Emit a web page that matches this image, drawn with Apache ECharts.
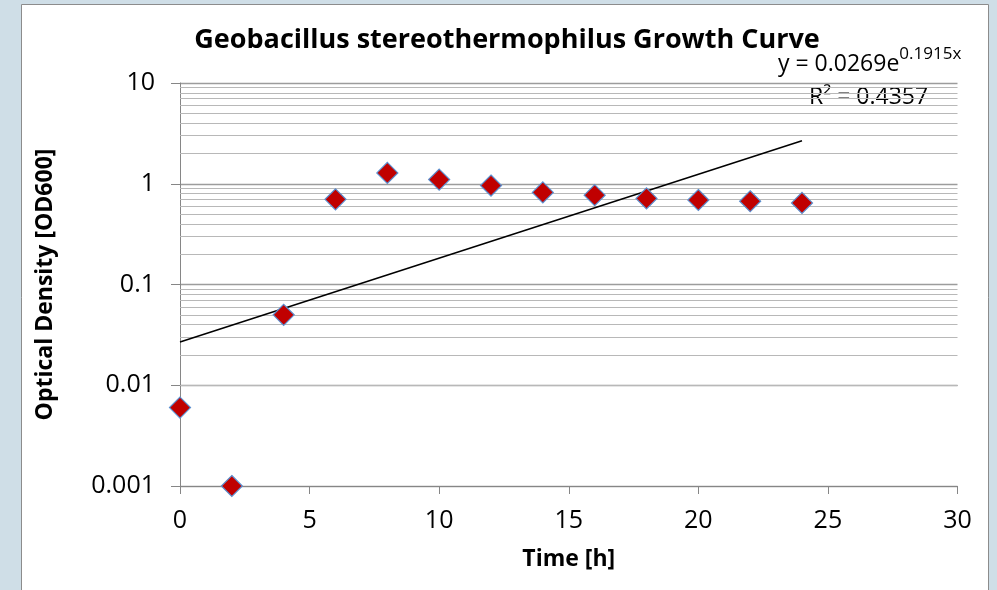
<!DOCTYPE html>
<html>
<head>
<meta charset="utf-8">
<script src="https://cdn.jsdelivr.net/npm/echarts@6/dist/echarts.min.js"></script>
<style>
html,body{margin:0;padding:0;background:#cfdee7;}
#c{width:997px;height:590px;}
</style>
</head>
<body>
<div id="c"></div>
<script>
// ---- data ----
var timeHours = [0, 2, 4, 6, 8, 10, 12, 14, 16, 18, 20, 22, 24];
var odValues = [0.006, 0.001, 0.05, 0.70, 1.28, 1.10, 0.96, 0.82, 0.77, 0.715, 0.69, 0.67, 0.645];
var trendX = [0, 24];
var trendY = [0.0269, 2.67];
var yTickLabels = ['0.001', '0.01', '0.1', '1', '10'];
var yTickValues = [0.001, 0.01, 0.1, 1, 10];
var minorGridValues = [];
var minorMultipliers = [2, 3, 4, 5, 6, 7, 8, 9];
var decades = [0.001, 0.01, 0.1, 1];
decades.forEach(function (d) {
  minorMultipliers.forEach(function (m) { minorGridValues.push(+(d * m).toPrecision(3)); });
});
var titleText = 'Geobacillus stereothermophilus Growth Curve';
var xName = 'Time [h]';
var yName = 'Optical Density [OD600]';

var FONT = '"Open Sans", Lato, sans-serif';
var chart = echarts.init(document.getElementById('c'), null, {renderer: 'canvas'});

var scatterData = timeHours.map(function (t, i) { return [t, odValues[i]]; });
var trendData = trendX.map(function (t, i) { return [t, trendY[i]]; });

chart.setOption({
  animation: false,
  backgroundColor: '#cfdee7',
  graphic: [
    {type: 'rect', z: -10, silent: true,
     shape: {x: 21.5, y: 4.5, width: 967, height: 600},
     style: {fill: '#ffffff', stroke: '#8c8c8c', lineWidth: 1}},
    {type: 'text', left: 778, top: 46, silent: true,
     style: {
       text: '{a|y = 0.0269e}{b|0.1915x}',
       rich: {
         a: {fontFamily: FONT, fontSize: 23, fill: '#000', lineHeight: 30, verticalAlign: 'bottom'},
         b: {fontFamily: FONT, fontSize: 17, fill: '#000', lineHeight: 30, verticalAlign: 'top'}
       }
     }},
    {type: 'text', left: 809, top: 86, silent: true,
     style: {text: 'R\u00b2 = 0.4357', fontFamily: FONT, fontSize: 23, fill: '#000'}}
  ],
  title: {
    text: titleText,
    left: 502, top: 22, textAlign: 'center',
    textStyle: {fontFamily: FONT, fontSize: 27, fontWeight: 'bold', color: '#000'}
  },
  grid: {left: 180, right: 39.5, top: 83, bottom: 104, containLabel: false},
  xAxis: {
    type: 'value', min: 0, max: 30, interval: 5,
    name: xName, nameLocation: 'middle', nameGap: 62,
    nameTextStyle: {fontFamily: FONT, fontSize: 23, fontWeight: 'bold', color: '#000'},
    axisLine: {show: true, lineStyle: {color: '#868686', width: 1}},
    axisTick: {show: true, inside: false, length: 8, lineStyle: {color: '#868686'}},
    axisLabel: {fontFamily: FONT, fontSize: 25, color: '#000', margin: 22},
    splitLine: {show: false}
  },
  yAxis: {
    type: 'log', logBase: 10, min: 0.001, max: 10,
    name: yName, nameLocation: 'middle', nameGap: 123, nameRotate: 90,
    nameTextStyle: {fontFamily: FONT, fontSize: 23, fontWeight: 'bold', color: '#000'},
    axisLine: {show: true, onZero: false, lineStyle: {color: '#868686', width: 1}},
    axisTick: {show: true, inside: false, length: 9, lineStyle: {color: '#868686'}},
    axisLabel: {
      fontFamily: FONT, fontSize: 25, color: '#000', margin: 25,
      formatter: function (v) {
        for (var i = 0; i < yTickValues.length; i++) {
          if (Math.abs(Math.log10(v) - Math.log10(yTickValues[i])) < 1e-6) return yTickLabels[i];
        }
        return '';
      }
    },
    splitLine: {show: true, lineStyle: {color: '#9c9c9c', width: 1.4}}
  },
  series: [
    {
      type: 'line', data: trendData, symbol: 'none', z: 3,
      lineStyle: {color: '#000', width: 1.5},
      markLine: {
        silent: true, symbol: ['none', 'none'], animation: false,
        label: {show: false},
        lineStyle: {color: '#b8b8b8', width: 1.2, type: 'solid'},
        emphasis: {disabled: true},
        data: minorGridValues.map(function (v) { return {yAxis: v}; }),
        z: 1
      }
    },
    {
      type: 'scatter', data: scatterData, symbol: 'diamond', symbolSize: 21, z: 5,
      itemStyle: {color: '#c00000', opacity: 1, borderColor: '#5b8fcf', borderWidth: 1.2}
    }
  ]
});
</script>
</body>
</html>
